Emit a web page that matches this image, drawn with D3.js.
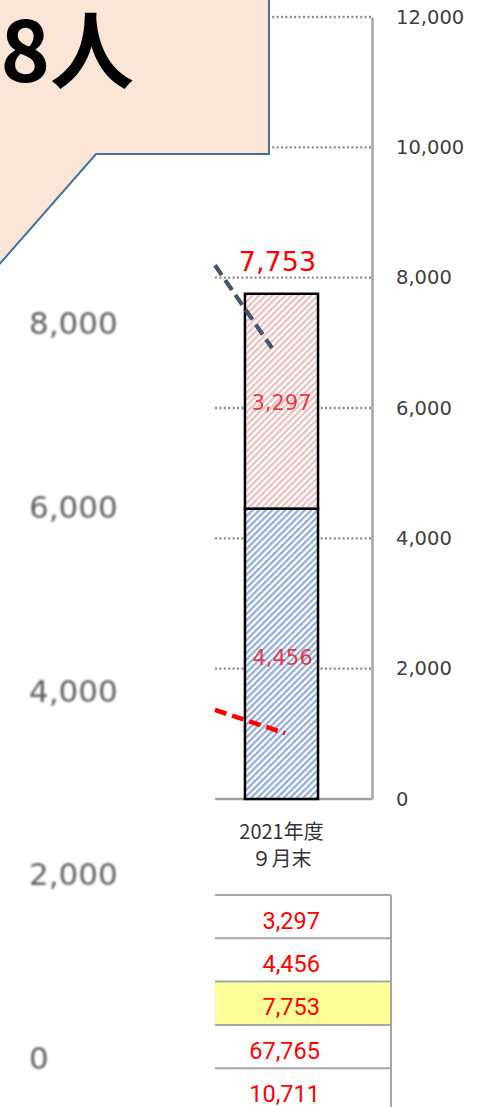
<!DOCTYPE html>
<html><head><meta charset="utf-8">
<script src="https://cdn.jsdelivr.net/npm/d3@7"></script>
<style>html,body{margin:0;padding:0;background:#fff;overflow:hidden}svg{display:block}</style>
</head><body>
<svg id="chart" width="488" height="1107"></svg>
<script>
// ---- data ----
const categories = ["2021年度|９月末"];
const upperValues = [3297];   // upper (red hatched) segment
const lowerValues = [4456];   // lower (blue hatched) segment
const totalValues = [7753];
const rightTicks = [0, 2000, 4000, 6000, 8000, 10000, 12000];
const insetTicks = [0, 2000, 4000, 6000, 8000];
const tableValues = [3297, 4456, 7753, 67765, 10711];
const highlightRow = 2;
const calloutText = "8人";
// trend segments running in from the previous period (t: -1 = previous period, 0 = this bar)
const navyTrend = [{t: -0.665, v: 8190}, {t: -0.095, v: 6920}];
const redTrend  = [{t: -0.665, v: 1366}, {t: 0.035, v: 1010}];

const svg = d3.select("#chart");
const fmt = d3.format(",");

// ---- scales ----
const plotLeft = 215, axisX = 372;
const y = d3.scaleLinear().domain([0, 12000]).range([799, 17]);
const x = d3.scaleBand().domain(categories).range([plotLeft, 348]).paddingInner(0).paddingOuter(0.41);
const cx = x(categories[0]) + x.bandwidth() / 2;
const xt = d3.scaleLinear().domain([-1, 0]).range([cx - 100, cx]);
const yInset = d3.scaleLinear().domain([0, 8000]).range([1058, 323]);

// ---- patterns & filters ----
const defs = svg.append("defs");
function hatch(id, color) {
  const p = defs.append("pattern").attr("id", id).attr("patternUnits", "userSpaceOnUse")
    .attr("width", 4.6).attr("height", 4.6).attr("patternTransform", "rotate(45)");
  p.append("rect").attr("width", 4.6).attr("height", 4.6).attr("fill", "#fff");
  p.append("line").attr("x1", 1.2).attr("x2", 1.2).attr("y1", 0).attr("y2", 4.6)
    .attr("stroke", color).attr("stroke-width", 2.2);
}
hatch("hatchBlue", "#8DAAD9");
hatch("hatchRed", "#EBBCBC");
defs.append("filter").attr("id", "soft").append("feGaussianBlur").attr("stdDeviation", 1);

// ---- inset axis labels (left) ----
svg.append("g").attr("filter", "url(#soft)")
  .selectAll("text").data(insetTicks).join("text")
  .attr("x", 29).attr("y", d => yInset(d))
  .attr("dominant-baseline", "central")
  .attr("font-family", "DejaVu Sans").attr("font-size", 31)
  .attr("fill", "#606060")
  .text(d => fmt(d));

// ---- gridlines ----
svg.append("g").selectAll("line").data(rightTicks.filter(d => d > 0)).join("line")
  .attr("x1", plotLeft).attr("x2", axisX).attr("y1", d => y(d)).attr("y2", d => y(d))
  .attr("stroke", "#8A8A8A").attr("stroke-width", 2.4).attr("stroke-dasharray", "2,2.4");

// baseline and right axis
svg.append("line").attr("x1", plotLeft).attr("x2", axisX).attr("y1", y(0)).attr("y2", y(0))
  .attr("stroke", "#A0A0A0").attr("stroke-width", 2.5);
const rightAxis = d3.axisRight(y).tickValues(rightTicks).tickSize(0).tickFormat(fmt);
const gAxis = svg.append("g").attr("transform", `translate(${axisX},0)`).call(rightAxis);
gAxis.select(".domain").attr("stroke", "#A6A6A6").attr("stroke-width", 2.5);
gAxis.selectAll("text").attr("x", 24).attr("font-family", "DejaVu Sans").attr("font-size", 19.5)
  .attr("fill", "#404040");

// ---- stacked bar ----
const bars = svg.append("g");
bars.selectAll("rect.lower").data(categories).join("rect").attr("class", "lower")
  .attr("x", d => x(d)).attr("width", x.bandwidth())
  .attr("y", (d, i) => y(lowerValues[i])).attr("height", (d, i) => y(0) - y(lowerValues[i]))
  .attr("fill", "url(#hatchBlue)").attr("stroke", "#000").attr("stroke-width", 2.5);
bars.selectAll("rect.upper").data(categories).join("rect").attr("class", "upper")
  .attr("x", d => x(d)).attr("width", x.bandwidth())
  .attr("y", (d, i) => y(lowerValues[i] + upperValues[i]))
  .attr("height", (d, i) => y(lowerValues[i]) - y(lowerValues[i] + upperValues[i]))
  .attr("fill", "url(#hatchRed)").attr("stroke", "#000").attr("stroke-width", 2.5);

// ---- trend segments ----
const line = d3.line().x(d => xt(d.t)).y(d => y(d.v));
svg.append("path").datum(navyTrend).attr("d", line).attr("fill", "none")
  .attr("stroke", "#44546A").attr("stroke-width", 4.2).attr("stroke-dasharray", "12,6");
svg.append("path").datum(redTrend).attr("d", line).attr("fill", "none")
  .attr("stroke", "#FF0000").attr("stroke-width", 4.5).attr("stroke-dasharray", "12,6");

// ---- value labels ----
svg.selectAll("text.total").data(categories).join("text").attr("class", "total")
  .attr("x", cx - 4).attr("y", (d, i) => y(totalValues[i]) - 23)
  .attr("text-anchor", "middle").attr("font-family", "DejaVu Sans").attr("font-size", 27)
  .attr("fill", "#FF0000").text((d, i) => fmt(totalValues[i]));
svg.selectAll("text.upv").data(categories).join("text").attr("class", "upv")
  .attr("x", cx).attr("y", (d, i) => y(lowerValues[i] + upperValues[i] * 0.5) + 9)
  .attr("text-anchor", "middle").attr("font-family", "DejaVu Sans").attr("font-size", 21)
  .attr("fill", "#EE1C25").attr("opacity", 0.85).text((d, i) => fmt(upperValues[i]));
svg.selectAll("text.lov").data(categories).join("text").attr("class", "lov")
  .attr("x", cx + 1).attr("y", (d, i) => y(lowerValues[i] * 0.5) + 11)
  .attr("text-anchor", "middle").attr("font-family", "DejaVu Sans").attr("font-size", 21)
  .attr("fill", "#EE1C25").attr("opacity", 0.85).text((d, i) => fmt(lowerValues[i]));

// ---- category label ----
const cat = svg.append("text").attr("x", cx).attr("y", 839).attr("text-anchor", "middle")
  .attr("font-family", "Noto Sans CJK JP").attr("font-size", 20).attr("fill", "#333");
categories[0].split("|").forEach((s, i) =>
  cat.append("tspan").attr("x", cx).attr("dy", i ? 27 : 0).text(s));

// ---- data table ----
const tableTop = 895, rowH = 43.3, tableRight = 391;
const rows = d3.scaleBand().domain(d3.range(tableValues.length))
  .range([tableTop, tableTop + rowH * tableValues.length]);
svg.append("rect").attr("x", plotLeft).attr("width", tableRight - plotLeft)
  .attr("y", rows(highlightRow)).attr("height", rows.bandwidth()).attr("fill", "#FFFF99");
svg.append("g").selectAll("line").data(tableValues).join("line")
  .attr("x1", plotLeft).attr("x2", tableRight)
  .attr("y1", (d, i) => rows(i)).attr("y2", (d, i) => rows(i))
  .attr("stroke", "#A6A6A6").attr("stroke-width", 2);
svg.append("line").attr("x1", tableRight).attr("x2", tableRight)
  .attr("y1", tableTop).attr("y2", 1107).attr("stroke", "#A6A6A6").attr("stroke-width", 2);
svg.append("g").selectAll("text").data(tableValues).join("text")
  .attr("x", 320).attr("y", (d, i) => rows(i) + rows.bandwidth() / 2 + 4)
  .attr("text-anchor", "end").attr("dominant-baseline", "central")
  .attr("font-family", "Roboto").attr("font-size", 23.5).attr("fill", "#FF0000")
  .text(d => fmt(d));

// ---- callout ----
svg.append("path")
  .attr("d", "M-10,-10 H269 V154 H96 L-10,275 Z")
  .attr("fill", "#FBE5D6").attr("stroke", "#41719C").attr("stroke-width", 2);
svg.append("text").attr("x", 134).attr("y", 82).attr("text-anchor", "end")
  .attr("font-family", "Noto Sans CJK JP").attr("font-weight", 700).attr("font-size", 84)
  .attr("fill", "#000").text(calloutText);
</script>
</body></html>
